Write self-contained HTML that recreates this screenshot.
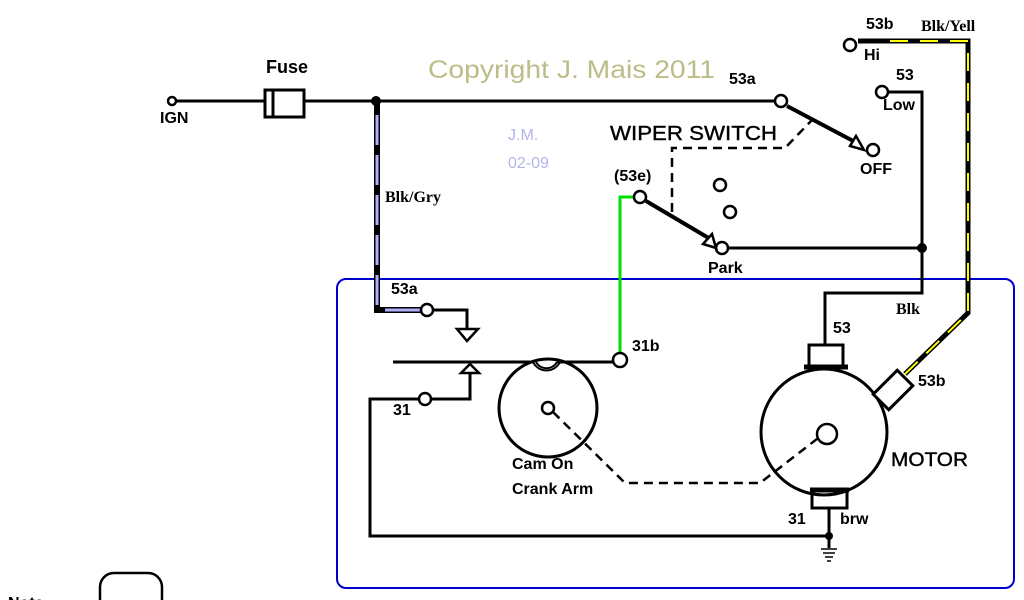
<!DOCTYPE html>
<html><head><meta charset="utf-8"><style>
html,body{margin:0;padding:0;background:#fff;width:1024px;height:600px;overflow:hidden}
text{font-family:"Liberation Sans",sans-serif;font-weight:bold;fill:#000}
.s{font-family:"Liberation Serif",serif}
</style></head><body>
<svg width="1024" height="600" viewBox="0 0 1024 600" xmlns="http://www.w3.org/2000/svg">
<rect x="337" y="279" width="677" height="309" rx="9" fill="none" stroke="#0000cc" stroke-width="2"/>
<g fill="none" stroke="#000" stroke-width="3">
<line x1="176" y1="101" x2="265" y2="101"/>
<rect x="265" y="90" width="39" height="27" stroke-width="3"/>
<line x1="273" y1="90" x2="273" y2="117"/>
<line x1="304" y1="101" x2="775" y2="101"/>
<polyline points="377,101 377,310 421,310" stroke-width="6"/>
<polyline points="433,310 467,310 467,328"/>
<polyline points="393,362 533,362"/>
<polyline points="557,362 613,362"/>
<polyline points="470,374 470,399 432,399"/>
<polyline points="418,399 370,399 370,536 829,536"/>
<circle cx="548" cy="408" r="49"/>
<polyline points="787,106 857,143" stroke-width="4"/>
<polyline points="646,201 712,240" stroke-width="4"/>
<line x1="728" y1="248" x2="922" y2="248"/>
<polyline points="889,92 922,92 922,293 825,293 825,345"/>
<polyline points="858,41 968,41 968,313 905,374" stroke-width="5"/>
<rect x="809" y="345" width="34" height="23"/>
<circle cx="824" cy="432" r="63"/>
<rect x="812" y="490" width="35" height="18"/>
<line x1="829" y1="508" x2="829" y2="548"/>
<g transform="translate(893,390) rotate(-45)"><rect x="-17" y="-11" width="34" height="22" fill="#fff"/></g>
<line x1="804" y1="367" x2="848" y2="367" stroke-width="5"/>
<line x1="810" y1="490" x2="849" y2="490" stroke-width="5"/>
</g>
<path d="M536,362 A12,12 0 0,0 557,362" fill="#fff" stroke="#000" stroke-width="2"/>
<path d="M533,362 A15,15 0 0,0 560,362" fill="none" stroke="#000" stroke-width="2"/>
<polyline points="377,115 377,305" stroke="#b0b0ff" stroke-width="3" stroke-dasharray="30,10" fill="none"/>
<line x1="385" y1="310" x2="420" y2="310" stroke="#b0b0ff" stroke-width="3"/>
<polyline points="890,41 968,41 968,313 905,374" stroke="#ffff00" stroke-width="2" stroke-dasharray="18,12" fill="none"/>
<polyline points="620,353 620,197 633,197" stroke="#00dd00" stroke-width="3" fill="none"/>
<g fill="none" stroke="#000" stroke-width="2.5" stroke-dasharray="9,6">
<polyline points="672,212 672,148 785,148 812,120"/>
<polyline points="553,412 625,483 760,483 826,432"/>
</g>
<g fill="#fff" stroke="#000" stroke-width="2.5">
<circle cx="172" cy="101" r="4"/>
<circle cx="427" cy="310" r="6"/>
<circle cx="425" cy="399" r="6"/>
<circle cx="620" cy="360" r="7"/>
<circle cx="640" cy="197" r="6"/>
<circle cx="722" cy="248" r="6"/>
<circle cx="781" cy="101" r="6"/>
<circle cx="873" cy="150" r="6"/>
<circle cx="850" cy="45" r="6"/>
<circle cx="882" cy="92" r="6"/>
<circle cx="720" cy="185" r="6"/>
<circle cx="730" cy="212" r="6"/>
<circle cx="548" cy="408" r="6"/>
<circle cx="827" cy="434" r="10"/>
<polygon points="457,329 478,329 467,341"/>
<polygon points="461,373 479,373 470,364"/>
<polygon points="856,136 864,150 850,146"/>
<polygon points="712,234 716,248 703,244"/>
<rect x="100" y="573" width="62" height="40" rx="14"/>
</g>
<circle cx="376" cy="101" r="5" fill="#000"/>
<circle cx="922" cy="248" r="5" fill="#000"/>
<circle cx="829" cy="536" r="4" fill="#000"/>
<g stroke="#000" stroke-width="1.5"><line x1="821" y1="549" x2="837" y2="549"/><line x1="823" y1="553" x2="835" y2="553"/><line x1="825" y1="557" x2="833" y2="557"/><line x1="827" y1="561" x2="831" y2="561"/></g>
<text x="428" y="78" textLength="287" lengthAdjust="spacingAndGlyphs" style="font-size:25px;font-weight:normal;fill:#bcbc88">Copyright J. Mais 2011</text>
<text x="508" y="140" style="font-size:16px;font-weight:normal;fill:#b4b4e8">J.M.</text>
<text x="508" y="168" style="font-size:16px;font-weight:normal;fill:#b4b4e8">02-09</text>
<text x="266" y="73" font-size="18">Fuse</text>
<text x="160" y="123" font-size="16">IGN</text>
<text x="385" y="202" font-size="16" class="s">Blk/Gry</text>
<text x="391" y="294" font-size="16">53a</text>
<text x="393" y="415" font-size="16">31</text>
<text x="632" y="351" font-size="16">31b</text>
<text x="512" y="469" font-size="16">Cam On</text>
<text x="512" y="494" font-size="16">Crank Arm</text>
<text x="610" y="140" font-size="20" textLength="167" lengthAdjust="spacingAndGlyphs" style="font-weight:normal;stroke:#000;stroke-width:0.4">WIPER SWITCH</text>
<text x="614" y="181" font-size="16">(53e)</text>
<text x="708" y="273" font-size="16">Park</text>
<text x="729" y="84" font-size="16">53a</text>
<text x="860" y="174" font-size="16">OFF</text>
<text x="866" y="29" font-size="16">53b</text>
<text x="921" y="31" font-size="16" class="s">Blk/Yell</text>
<text x="864" y="60" font-size="16">Hi</text>
<text x="896" y="80" font-size="16">53</text>
<text x="883" y="110" font-size="16">Low</text>
<text x="896" y="314" font-size="16" class="s">Blk</text>
<text x="833" y="333" font-size="16">53</text>
<text x="918" y="386" font-size="16">53b</text>
<text x="891" y="466" font-size="19" textLength="77" lengthAdjust="spacingAndGlyphs" style="font-weight:normal;stroke:#000;stroke-width:0.4">MOTOR</text>
<text x="788" y="524" font-size="16">31</text>
<text x="840" y="524" font-size="16">brw</text>
<text x="8" y="608" font-size="16">Note</text>
</svg>
</body></html>
